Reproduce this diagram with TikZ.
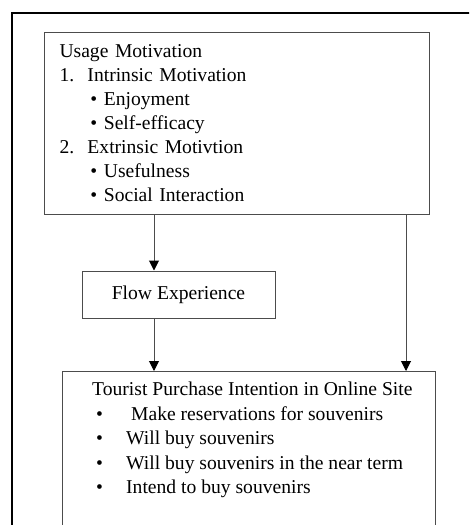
\documentclass[tikz,border=0pt]{standalone}
\usepackage{fontspec}
\setmainfont{Liberation Serif}
\usetikzlibrary{arrows.meta}
\tikzset{
  box/.style={draw=black!70,line width=1pt,inner sep=0pt},
  arr/.style={draw=black!70,line width=1pt,-{Triangle[width=10pt,length=10pt,fill=black,color=black]}},
  txt/.style={font=\fontsize{19.6}{24}\selectfont,text=black},
}
\begin{document}
\begin{tikzpicture}[x=1pt,y=-1pt]
        \def\W{469} \def\H{525}
        \useasboundingbox (0,0) rectangle (\W,\H);
        \clip (0,0) rectangle (\W,\H);
        \fill[white] (0,0) rectangle (\W,\H);
        \draw[line width=1.5pt] (12,\H+10) |- (\W+10,13);

        \node (usage) at (44,32) [box,txt,anchor=north west,text width=355pt,inner xsep=15pt,minimum height=182pt,align=left]
          {Usage Motivation\\
           \makebox[28pt][l]{1.}Intrinsic Motivation\\
           \hspace*{31pt}\textbullet\ Enjoyment\\
           \hspace*{31pt}\textbullet\ Self-efficacy\\
           \makebox[28pt][l]{2.}Extrinsic Motivtion\\
           \hspace*{31pt}\textbullet\ Usefulness\\
           \hspace*{31pt}\textbullet\ Social Interaction};
        \node (flow) at (178.5,294.5) [box,txt,minimum width=193pt,minimum height=47pt] {Flow Experience};
        \node (tbox) at (62,371) [box,anchor=north west,minimum width=373pt,minimum height=180pt] {};
        \node (tpi) at (92,382) [txt,anchor=north west,inner sep=0pt,align=left,font=\fontsize{19.6}{24.5}\selectfont]
          {Tourist Purchase Intention in Online Site\\
           \hspace*{4pt}\makebox[30pt][l]{\textbullet}\hspace*{5pt}Make reservations for souvenirs\\
           \hspace*{4pt}\makebox[30pt][l]{\textbullet}Will buy souvenirs\\
           \hspace*{4pt}\makebox[30pt][l]{\textbullet}Will buy souvenirs in the near term\\
           \hspace*{4pt}\makebox[30pt][l]{\textbullet}Intend to buy souvenirs};

        \coordinate (l) at (154,0);
        \coordinate (r) at (406,0);
        \draw[arr] (l |- usage.south) -- (l |- flow.north);
        \draw[arr] (l |- flow.south) -- (l |- tbox.north);
        \draw[arr] (r |- usage.south) -- (r |- tbox.north);
\end{tikzpicture}
\end{document}
